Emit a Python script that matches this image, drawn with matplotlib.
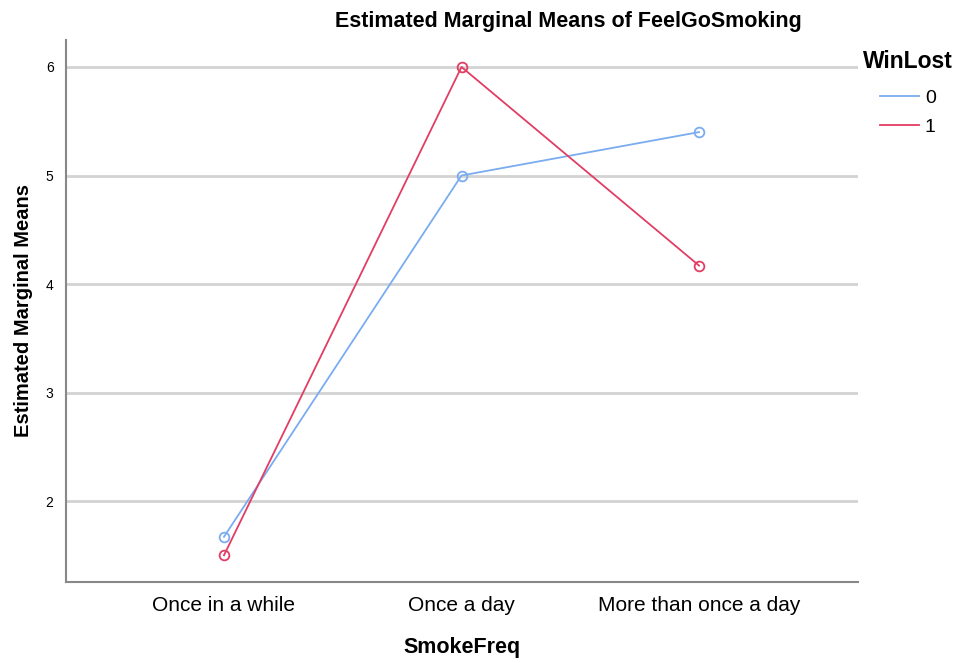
import matplotlib.pyplot as plt

plt.rcParams['font.family'] = ['Liberation Sans', 'DejaVu Sans']

categories = ["Once in a while", "Once a day", "More than once a day"]
win0 = [1.67, 5.0, 5.4]
win1 = [1.5, 6.0, 4.17]
series_labels = ["0", "1"]
colors = ["#7aacf0", "#e23d63"]

fig = plt.figure(figsize=(9.61, 6.63), dpi=100)
ax = fig.add_axes([0.0687, 0.1222, 0.8243, 0.8175])

x = range(len(categories))
for vals, lab, col in zip([win0, win1], series_labels, colors):
    ax.plot(x, vals, color=col, lw=1.3, marker='o', markersize=7,
            markerfacecolor='none', markeredgecolor=col, markeredgewidth=1.3,
            label=lab)

ax.set_xlim(-0.665, 2.67)
ax.set_ylim(1.254, 6.249)
ax.set_yticks([2, 3, 4, 5, 6])
ax.set_xticks(list(x))
ax.set_xticklabels(categories, fontsize=15)
ax.tick_params(axis='y', length=0, labelsize=10, pad=9)
ax.tick_params(axis='x', length=0, pad=10)
ax.yaxis.grid(True, color='#d3d3d3', lw=2)
ax.set_axisbelow(True)
for s in ['top', 'right']:
    ax.spines[s].set_visible(False)
for s in ['left', 'bottom']:
    ax.spines[s].set_color('#888888')
    ax.spines[s].set_linewidth(1.5)

ax.set_xlabel("SmokeFreq", fontsize=15.5, fontweight='bold', labelpad=16)
ax.set_ylabel("Estimated Marginal Means", fontsize=14.5, fontweight='bold', labelpad=9)
fig.text(568 / 961, 1 - 22 / 663, "Estimated Marginal Means of FeelGoSmoking",
         ha='center', va='center', fontsize=15.5, fontweight='bold')

leg = fig.legend(loc='upper left', bbox_to_anchor=(863 / 961, 1 - 50 / 663),
                 frameon=False, title="WinLost", fontsize=14, handlelength=2.0,
                 handletextpad=0.3, labelspacing=0.55, borderaxespad=0,
                 borderpad=0)
leg.get_title().set_fontweight('bold')
leg.get_title().set_fontsize(16.5)
leg._legend_box.sep = 12
for h in leg.legend_handles:
    h.set_marker('')

fig.savefig("out.png", dpi=100)
